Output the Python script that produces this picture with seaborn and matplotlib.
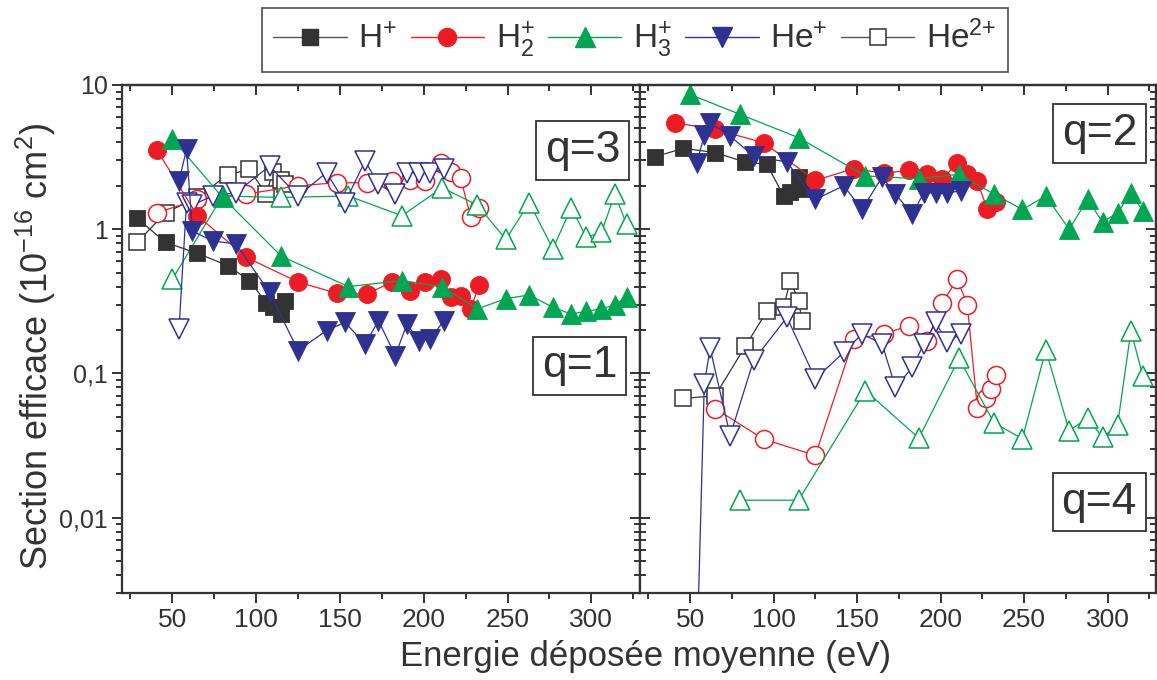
import matplotlib
matplotlib.use('Agg')
import matplotlib.pyplot as plt
from matplotlib.ticker import MultipleLocator, FixedLocator, FixedFormatter, LogLocator, NullFormatter
from matplotlib.lines import Line2D
import seaborn as sns

sns.set_style('ticks')
plt.rcParams['font.family'] = ['Liberation Sans', 'DejaVu Sans']
plt.rcParams['mathtext.fontset'] = 'custom'
plt.rcParams['mathtext.rm'] = 'Liberation Sans'
plt.rcParams['mathtext.it'] = 'Liberation Sans:italic'
plt.rcParams['mathtext.bf'] = 'Liberation Sans:bold'

TXT = '#333333'
C_H1 = '#333333'
C_H2 = '#ed1c24'
C_H3 = '#00a651'
C_HE = '#2e3192'

# energies (eV)
h1_x = [29, 46, 65, 83, 96, 106, 110, 115, 117]
h2_x = [41, 65, 94, 125, 148, 166, 181, 192, 201, 210, 216, 222, 228, 233]
h3_x = [50, 80, 115, 155, 187, 211, 232, 249, 263, 277, 288, 297, 306, 314, 321]
he_x = [54, 58.5, 62, 74, 88, 108, 125, 142, 153, 165, 173, 183, 190, 197, 204, 212]
h2_x_q4 = [65, 94, 125, 148, 166, 181, 192, 201, 210, 216, 222, 227, 230, 233]

# q=1 (left, filled)
h1_q1 = [1.19, 0.81, 0.68, 0.56, 0.44, 0.31, 0.29, 0.26, 0.32]
h2_q1 = [3.52, 1.24, 0.64, 0.43, 0.36, 0.355, 0.43, 0.37, 0.43, 0.45, 0.34, 0.345, 0.28, 0.41]
h3_q1 = [4.24, 1.66, 0.65, 0.40, 0.44, 0.40, 0.28, 0.33, 0.35, 0.287, 0.258, 0.27, 0.28, 0.30, 0.337]
he_q1 = [2.16, 3.58, 0.97, 0.83, 0.79, 0.365, 0.144, 0.198, 0.226, 0.16, 0.232, 0.133, 0.22, 0.169, 0.174, 0.232]

# q=3 (left, open)
he2_q3 = [0.81, 1.30, 1.66, 2.38, 2.60, 1.75, 2.50, 2.20, 2.05]
h2_q3 = [1.30, 1.61, 1.75, 2.00, 2.10, 2.10, 2.16, 2.20, 2.16, 2.90, 2.50, 2.25, 1.22, 1.41]
h3_q3 = [0.45, 1.70, 1.66, 1.70, 1.24, 1.94, 1.47, 0.85, 1.53, 0.73, 1.41, 0.88, 0.95, 1.75, 1.08]
he_q3 = [0.203, 1.53, 1.47, 1.70, 1.79, 2.74, 1.70, 2.47, 1.53, 2.97, 2.05, 1.75, 2.47, 2.47, 2.47, 2.60]

# q=2 (right, filled)
h1_q2 = [3.18, 3.64, 3.40, 2.92, 2.82, 1.70, 1.80, 2.30, 1.90]
h2_q2 = [5.47, 4.92, 3.98, 2.18, 2.63, 2.44, 2.57, 2.40, 2.22, 2.89, 2.40, 2.16, 1.37, 1.55]
h3_q2 = [8.6, 6.25, 4.31, 2.34, 2.24, 2.40, 1.75, 1.37, 1.70, 1.00, 1.61, 1.12, 1.30, 1.79, 1.34]
he_q2 = [2.89, 4.47, 5.47, 4.42, 3.22, 2.92, 1.61, 2.00, 1.37, 2.31, 1.75, 1.27, 1.79, 1.79, 1.79, 1.84]

# q=4 (right, open)
he2_q4 = [0.067, 0.070, 0.154, 0.27, 0.29, 0.44, 0.32, 0.23]
h2_q4 = [0.057, 0.035, 0.027, 0.173, 0.188, 0.214, 0.169, 0.308, 0.45, 0.30, 0.058, 0.068, 0.078, 0.097]
h3_q4 = [0.0132, 0.0132, 0.076, 0.0356, 0.127, 0.0454, 0.0352, 0.146, 0.040, 0.049, 0.036, 0.0441, 0.198, 0.0966]
he_q4 = [0.001, 0.0846, 0.149, 0.037, 0.123, 0.245, 0.0916, 0.14, 0.188, 0.16, 0.08, 0.11, 0.16, 0.226, 0.164, 0.188]

MS_SQ, MS_CI, MS_TR = 12, 13, 14


def draw(ax, x, y, color, marker, ms, filled):
    sns.lineplot(x=x, y=y, ax=ax, sort=False, estimator=None, color=color,
                 linewidth=0.9, marker=marker, markersize=ms,
                 markerfacecolor=color if filled else 'white',
                 markeredgecolor=color, markeredgewidth=0.6 if filled else 1.1)


def style_axes(ax, left_labels):
    ax.set_yscale('log')
    ax.set_xlim(20, 329)
    ax.set_ylim(0.003, 10)
    ax.xaxis.set_major_locator(MultipleLocator(50))
    ax.xaxis.set_minor_locator(MultipleLocator(25))
    ax.yaxis.set_major_locator(FixedLocator([0.01, 0.1, 1, 10]))
    ax.yaxis.set_major_formatter(FixedFormatter(['0,01', '0,1', '1', '10']))
    ax.yaxis.set_minor_locator(LogLocator(subs=range(2, 10)))
    ax.yaxis.set_minor_formatter(NullFormatter())
    for s in ax.spines.values():
        s.set_color(TXT)
        s.set_linewidth(1.6)
    ax.tick_params(axis='x', which='both', direction='out', top=False,
                   colors=TXT, labelsize=19, width=1.4)
    ax.tick_params(axis='x', which='major', length=7)
    ax.tick_params(axis='x', which='minor', length=4)
    if left_labels:
        ax.tick_params(axis='y', which='both', direction='out', right=False,
                       colors=TXT, labelsize=18, width=1.4, pad=3)
    else:
        ax.tick_params(axis='y', which='both', direction='in', left=True,
                       right=False, labelleft=False, colors=TXT, width=1.4)
    ax.tick_params(axis='y', which='major', length=7)
    ax.tick_params(axis='y', which='minor', length=4)
    ax.set_xlabel('')
    ax.set_ylabel('')

    sx = ax.secondary_xaxis('top')
    sx.xaxis.set_major_locator(MultipleLocator(50))
    sx.xaxis.set_minor_locator(MultipleLocator(25))
    sx.tick_params(which='both', direction='in', labeltop=False, colors=TXT, width=1.4)
    sx.tick_params(which='major', length=7)
    sx.tick_params(which='minor', length=4)
    sx.spines['top'].set_color(TXT)
    sx.spines['top'].set_linewidth(1.6)

    sy = ax.secondary_yaxis('right')
    sy.yaxis.set_major_locator(FixedLocator([0.01, 0.1, 1, 10]))
    sy.yaxis.set_minor_locator(LogLocator(subs=range(2, 10)))
    sy.yaxis.set_minor_formatter(NullFormatter())
    sy.tick_params(which='both', direction='in', labelright=False, colors=TXT, width=1.4)
    sy.tick_params(which='major', length=7)
    sy.tick_params(which='minor', length=4)
    sy.spines['right'].set_color(TXT)
    sy.spines['right'].set_linewidth(1.6)


def qlabel(ax, xf, yf, txt):
    ax.text(xf, yf, txt, transform=ax.transAxes, ha='center', va='center',
            fontsize=32, color=TXT, zorder=10,
            bbox=dict(boxstyle='square,pad=0.2', fc='white', ec=TXT, lw=1.3))


fig = plt.figure(figsize=(11.57, 6.8), dpi=100)
ax1 = fig.add_axes([122 / 1157, 87 / 680, 518 / 1157, 508 / 680])
ax2 = fig.add_axes([640 / 1157, 87 / 680, 516 / 1157, 508 / 680])

# left panel: q=3 open, q=1 filled
draw(ax1, h1_x, he2_q3, C_H1, 's', MS_SQ, False)
draw(ax1, h2_x, h2_q3, C_H2, 'o', MS_CI, False)
draw(ax1, h3_x, h3_q3, C_H3, '^', MS_TR, False)
draw(ax1, he_x, he_q3, C_HE, 'v', MS_TR, False)
draw(ax1, h1_x, h1_q1, C_H1, 's', MS_SQ, True)
draw(ax1, h2_x, h2_q1, C_H2, 'o', MS_CI, True)
draw(ax1, h3_x, h3_q1, C_H3, '^', MS_TR, True)
draw(ax1, he_x, he_q1, C_HE, 'v', MS_TR, True)

# right panel: q=4 open, q=2 filled
draw(ax2, h1_x[1:], he2_q4, C_H1, 's', MS_SQ, False)
draw(ax2, h2_x_q4, h2_q4, C_H2, 'o', MS_CI, False)
draw(ax2, h3_x[1:], h3_q4, C_H3, '^', MS_TR, False)
draw(ax2, he_x, he_q4, C_HE, 'v', MS_TR, False)
draw(ax2, h1_x, h1_q2, C_H1, 's', MS_SQ, True)
draw(ax2, h2_x, h2_q2, C_H2, 'o', MS_CI, True)
draw(ax2, h3_x, h3_q2, C_H3, '^', MS_TR, True)
draw(ax2, he_x, he_q2, C_HE, 'v', MS_TR, True)

style_axes(ax1, True)
style_axes(ax2, False)

qlabel(ax1, 0.889, 0.871, 'q=3')
qlabel(ax1, 0.884, 0.447, 'q=1')
qlabel(ax2, 0.891, 0.905, 'q=2')
qlabel(ax2, 0.890, 0.179, 'q=4')

handles = [
    Line2D([], [], color='#555555', lw=1, marker='s', ms=MS_SQ, mfc=C_H1, mec=C_H1),
    Line2D([], [], color=C_H2, lw=1, marker='o', ms=MS_CI, mfc=C_H2, mec=C_H2),
    Line2D([], [], color=C_H3, lw=1, marker='^', ms=MS_TR, mfc=C_H3, mec=C_H3),
    Line2D([], [], color=C_HE, lw=1, marker='v', ms=MS_TR, mfc=C_HE, mec=C_HE),
    Line2D([], [], color='#555555', lw=1, marker='s', ms=MS_SQ - 1, mfc='white', mec=C_H1, mew=1.1),
]
labels = [r'H$^{+}$', r'H$_{2}^{+}$', r'H$_{3}^{+}$', r'He$^{+}$', r'He$^{2{+}}$']
leg = fig.legend(handles, labels, loc='center', bbox_to_anchor=(635 / 1157, 1 - 40 / 680),
                 ncol=5, frameon=True, fancybox=False, fontsize=24,
                 handlelength=2.2, handletextpad=0.35, columnspacing=0.4,
                 borderpad=0.35, labelcolor=TXT)
leg.get_frame().set_edgecolor(TXT)
leg.get_frame().set_linewidth(1.3)

fig.text(0.5575, 0.034, 'Energie déposée moyenne (eV)', ha='center', va='center',
         fontsize=25, color=TXT)
fig.text(0.031, 0.49, r'Section efficace (10$^{-16}$ cm$^{2}$)', ha='center',
         va='center', rotation=90, fontsize=26, color=TXT)

fig.savefig('out.png', dpi=100)
